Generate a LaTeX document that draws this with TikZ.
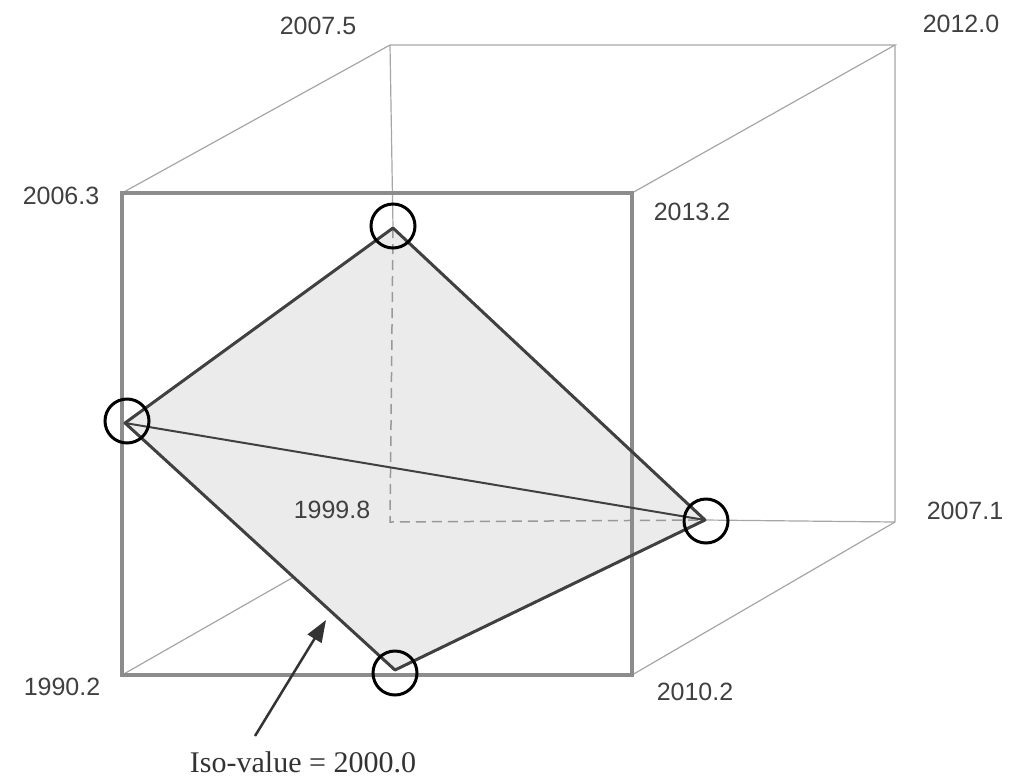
\documentclass[tikz,border=0pt]{standalone}
\usepackage{fontspec}
\setmainfont{Liberation Serif}
\newfontfamily\numfont{Liberation Sans}
\usetikzlibrary{arrows.meta}
\begin{document}
\begin{tikzpicture}[x=1pt,y=-1pt,
  numlabel/.style={font=\numfont\fontsize{25}{28}\selectfont, text=black!75, inner sep=0pt},
  frontedge/.style={draw=black!45, line width=3.5pt},
  backedge/.style={draw=black!35, line width=1.2pt},
  hidden/.style={draw=black!40, line width=1.5pt, dash pattern=on 10pt off 6pt},
  isoedge/.style={draw=black!75, line width=3pt, line join=round},
  ring/.style={circle, draw=black, line width=3pt, minimum size=44pt, inner sep=0pt}]
\useasboundingbox (0,0) rectangle (1019,780);
% cube corners
\coordinate (F1) at (122,193);
\coordinate (F2) at (632,193);
\coordinate (F3) at (632,675);
\coordinate (F4) at (122,675);
\coordinate (B1) at (390,45);
\coordinate (B2) at (895,45);
\coordinate (B3) at (895,522);
\coordinate (B4) at (390,522);
% iso vertices
\coordinate (T) at (393,228);
\coordinate (L) at (125,423);
\coordinate (R) at (705,520);
\coordinate (D) at (395,670);
% back edges
\draw[backedge] (F1) -- (B1) -- (B2) -- (F2);
\draw[backedge] (B2) -- (B3) -- (F3);
\draw[backedge] (F4) -- (B4);
\draw[backedge] (B1) -- (T);
\draw[backedge] (R) -- (B3);
% iso polygon
\fill[black!8] (T) -- (R) -- (D) -- (L) -- cycle;
\draw[hidden] (T) -- (B4) -- (R);
% front face
\draw[frontedge] (F1) -- (F2) -- (F3) -- (F4) -- cycle;
\draw[isoedge] (T) -- (R) -- (D) -- (L) -- cycle;
\draw[isoedge, line width=2pt] (L) -- (R);
% rings
\node[ring] (cT) at (393,226) {};
\node[ring] (cL) at (127,421) {};
\node[ring] (cR) at (706,521) {};
\node[ring] (cD) at (395,673) {};
% labels
\node[numlabel] (l1) at (318,26) {2007.5};
\node[numlabel] (l2) at (961,24) {2012.0};
\node[numlabel] (l3) at (61,196) {2006.3};
\node[numlabel] (l4) at (692,212) {2013.2};
\node[numlabel] (l5) at (332,510) {1999.8};
\node[numlabel] (l6) at (965,511) {2007.1};
\node[numlabel] (l7) at (62,687) {1990.2};
\node[numlabel] (l8) at (695,692) {2010.2};
\node[font=\fontsize{30}{34}\selectfont, text=black!80, inner sep=0pt] (iso) at (303,762) {Iso-value = 2000.0};
\coordinate (arrowtip) at (326,620);
\coordinate (arrowtail) at (255,736);
\draw[draw=black!80, line width=2.5pt, -{Triangle[length=22pt,width=16pt]}] (arrowtail) -- (arrowtip);
\end{tikzpicture}
\end{document}
